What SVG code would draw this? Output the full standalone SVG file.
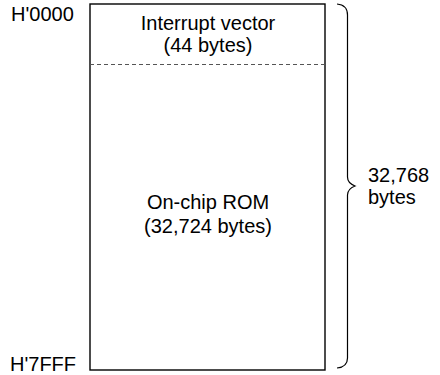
<svg xmlns="http://www.w3.org/2000/svg" width="440" height="375" viewBox="0 0 440 375">
<style>
text{font-family:"Liberation Sans",Arial,sans-serif;font-size:20px;fill:#000}
.c{text-anchor:middle}
.box{fill:#fff;stroke:#000;stroke-width:1.4}
.dash{stroke:#555;stroke-width:1;stroke-dasharray:4,3;fill:none}
.brace{fill:none;stroke:#000;stroke-width:1.2}
</style>
<rect width="440" height="375" fill="#fff"/>
<g id="memory">
<rect class="box" x="90" y="4" width="235" height="366"/>
<line class="dash" x1="90" y1="64.5" x2="325" y2="64.5"/>
</g>
<g id="vector">
<text class="c" x="208" y="30">Interrupt vector</text>
<text class="c" x="208" y="52">(44 bytes)</text>
</g>
<g id="rom">
<text class="c" x="208" y="209">On-chip ROM</text>
<text class="c" x="208" y="233">(32,724 bytes)</text>
</g>
<g id="addr">
<text x="11" y="21">H'0000</text>
<text x="10" y="371">H'7FFF</text>
</g>
<g id="size">
<path class="brace" d="M337,4 Q347.5,5 347.5,15 L347.5,177 Q347.5,183 355,186 Q347.5,189 347.5,195 L347.5,358 Q347.5,367 337,368"/>
<text x="368" y="182">32,768</text>
<text x="368" y="204">bytes</text>
</g>
</svg>
